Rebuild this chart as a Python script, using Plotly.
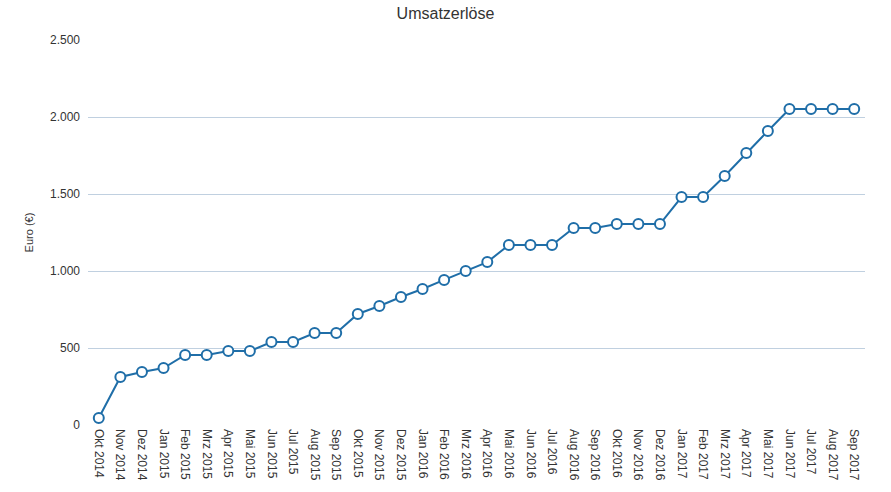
import plotly.graph_objects as go

months = ["Okt 2014", "Nov 2014", "Dez 2014", "Jan 2015", "Feb 2015", "Mrz 2015",
          "Apr 2015", "Mai 2015", "Jun 2015", "Jul 2015", "Aug 2015", "Sep 2015",
          "Okt 2015", "Nov 2015", "Dez 2015", "Jan 2016", "Feb 2016", "Mrz 2016",
          "Apr 2016", "Mai 2016", "Jun 2016", "Jul 2016", "Aug 2016", "Sep 2016",
          "Okt 2016", "Nov 2016", "Dez 2016", "Jan 2017", "Feb 2017", "Mrz 2017",
          "Apr 2017", "Mai 2017", "Jun 2017", "Jul 2017", "Aug 2017", "Sep 2017"]
umsatz = [45, 312, 344, 370, 455, 455, 480, 480, 539, 539, 597, 597,
          721, 773, 831, 883, 942, 1000, 1058, 1169, 1169, 1169, 1279, 1279,
          1305, 1305, 1305, 1480, 1480, 1617, 1766, 1909, 2052, 2052, 2052, 2052]
y_ticks = [0, 500, 1000, 1500, 2000, 2500]

FONT = "Liberation Sans, Arial, sans-serif"
GRID = "#c0d0e0"
LINE = "#1f6ea8"

fig = go.Figure(go.Scatter(
    x=months, y=umsatz, mode="lines+markers",
    line=dict(color=LINE, width=2),
    marker=dict(size=10, color="white", line=dict(color=LINE, width=2)),
    cliponaxis=False,
))

fig.update_layout(
    width=891, height=492,
    margin=dict(l=88, r=26, t=40, b=67),
    paper_bgcolor="white", plot_bgcolor="white",
    separators=",.",
    showlegend=False,
    font=dict(family=FONT, size=12, color="#333333"),
    title=dict(text="Umsatzerlöse", x=0.5, xanchor="center", y=0.972, yanchor="middle",
               font=dict(family=FONT, size=16, color="#333333")),
)
fig.update_xaxes(
    type="category", range=[-0.5, len(months) - 0.5],
    showgrid=False, showline=False, ticks="", tickangle=90,
    ticklabelstandoff=3,
    tickfont=dict(family=FONT, size=12, color="#333333"),
)
fig.update_yaxes(
    range=[0, 2500], tickvals=y_ticks, tickformat=",d",
    showgrid=True, gridcolor=GRID, gridwidth=1, zeroline=False,
    showline=False, ticks="", ticklabelstandoff=7,
    title=dict(text="Euro (€)", font=dict(family=FONT, size=11, color="#333333"), standoff=14),
    tickfont=dict(family=FONT, size=12, color="#333333"),
)

fig.write_html("out.html")
